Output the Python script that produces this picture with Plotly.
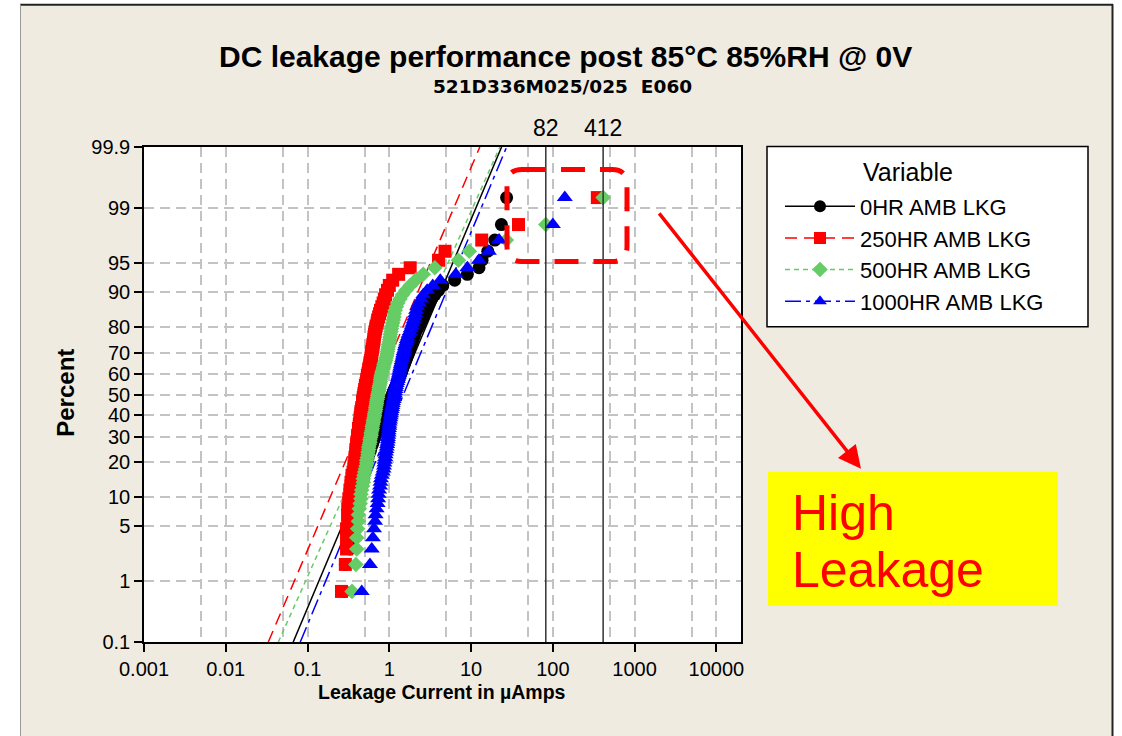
from math import log10
from statistics import NormalDist
import plotly.graph_objects as go

# Leakage current readings (uA), 100 parts per read point, sorted
lkg_0hr = [
    0.28, 0.29, 0.33, 0.36, 0.38, 0.39, 0.40, 0.41, 0.42, 0.43,
    0.44, 0.45, 0.46, 0.47, 0.48, 0.49, 0.50, 0.51, 0.52, 0.53,
    0.54, 0.55, 0.56, 0.58, 0.59, 0.60, 0.62, 0.63, 0.65, 0.66,
    0.68, 0.69, 0.71, 0.72, 0.74, 0.76, 0.78, 0.80, 0.82, 0.84,
    0.86, 0.88, 0.90, 0.92, 0.95, 0.97, 1.00, 1.02, 1.05, 1.08,
    1.10, 1.12, 1.15, 1.18, 1.21, 1.24, 1.27, 1.30, 1.33, 1.36,
    1.39, 1.42, 1.45, 1.48, 1.52, 1.55, 1.58, 1.62, 1.66, 1.70,
    1.74, 1.78, 1.82, 1.86, 1.90, 1.95, 2.00, 2.05, 2.10, 2.20,
    2.30, 2.40, 2.50, 2.60, 2.70, 2.80, 2.95, 3.10, 3.30, 3.60,
    4.00, 4.50, 6.30, 9.00, 12.5, 13.6, 16.0, 19.5, 23.5, 27.2,
]
lkg_250hr = [
    0.26, 0.29, 0.30, 0.30, 0.30, 0.31, 0.31, 0.31, 0.32, 0.32,
    0.33, 0.33, 0.34, 0.34, 0.35, 0.35, 0.36, 0.37, 0.37, 0.38,
    0.38, 0.38, 0.39, 0.39, 0.39, 0.40, 0.40, 0.40, 0.41, 0.41,
    0.41, 0.42, 0.42, 0.42, 0.43, 0.43, 0.44, 0.44, 0.44, 0.45,
    0.45, 0.45, 0.46, 0.46, 0.47, 0.47, 0.47, 0.48, 0.48, 0.49,
    0.49, 0.50, 0.50, 0.51, 0.51, 0.52, 0.53, 0.53, 0.54, 0.54,
    0.55, 0.56, 0.56, 0.57, 0.58, 0.58, 0.59, 0.60, 0.60, 0.61,
    0.61, 0.62, 0.63, 0.63, 0.64, 0.65, 0.65, 0.66, 0.67, 0.68,
    0.69, 0.71, 0.72, 0.74, 0.76, 0.78, 0.81, 0.84, 0.87, 0.90,
    0.95, 1.00, 1.10, 1.30, 1.80, 4.00, 4.80, 13.5, 38.0, 350.0,
]
lkg_500hr = [
    0.35, 0.39, 0.40, 0.40, 0.41, 0.42, 0.42, 0.43, 0.44, 0.45,
    0.45, 0.46, 0.47, 0.48, 0.48, 0.49, 0.50, 0.51, 0.52, 0.53,
    0.53, 0.54, 0.55, 0.55, 0.56, 0.56, 0.57, 0.58, 0.58, 0.59,
    0.60, 0.60, 0.61, 0.62, 0.62, 0.63, 0.64, 0.64, 0.65, 0.66,
    0.66, 0.67, 0.68, 0.68, 0.69, 0.70, 0.70, 0.71, 0.72, 0.72,
    0.73, 0.74, 0.75, 0.75, 0.76, 0.77, 0.78, 0.78, 0.79, 0.80,
    0.81, 0.82, 0.84, 0.85, 0.86, 0.88, 0.90, 0.91, 0.93, 0.94,
    0.95, 0.96, 0.97, 0.98, 1.00, 1.01, 1.02, 1.03, 1.05, 1.06,
    1.08, 1.10, 1.12, 1.14, 1.15, 1.18, 1.22, 1.27, 1.35, 1.45,
    1.60, 1.80, 2.10, 2.60, 3.60, 7.00, 9.50, 27.0, 82.0, 412.0,
]
lkg_1000hr = [
    0.46, 0.58, 0.61, 0.63, 0.65, 0.67, 0.68, 0.70, 0.72, 0.73,
    0.74, 0.75, 0.77, 0.78, 0.79, 0.81, 0.83, 0.85, 0.86, 0.87,
    0.88, 0.89, 0.90, 0.91, 0.92, 0.93, 0.94, 0.95, 0.96, 0.96,
    0.97, 0.98, 0.98, 0.99, 1.00, 1.00, 1.01, 1.02, 1.03, 1.04,
    1.05, 1.06, 1.07, 1.08, 1.09, 1.10, 1.11, 1.13, 1.14, 1.15,
    1.16, 1.17, 1.19, 1.20, 1.21, 1.23, 1.25, 1.27, 1.28, 1.30,
    1.32, 1.33, 1.35, 1.36, 1.38, 1.40, 1.42, 1.44, 1.46, 1.48,
    1.50, 1.53, 1.55, 1.58, 1.61, 1.64, 1.68, 1.72, 1.78, 1.83,
    1.88, 1.93, 1.98, 2.03, 2.08, 2.13, 2.20, 2.30, 2.45, 2.60,
    2.90, 3.40, 4.20, 6.50, 9.00, 12.5, 16.5, 22.0, 100.0, 140.0,
]

series_names = ["0HR AMB LKG", "250HR AMB LKG", "500HR AMB LKG", "1000HR AMB LKG"]
# fitted lognormal lines: leakage at 0.1 % and at 99.9 %
fit_low = [0.0668, 0.0331, 0.0439, 0.0815]
fit_high = [23.6, 12.8, 22.5, 27.2]

ref_values = [82, 412]
pct_ticks = [0.1, 1, 5, 10, 20, 30, 40, 50, 60, 70, 80, 90, 95, 99, 99.9]
x_ticks = [0.001, 0.01, 0.1, 1, 10, 100, 1000, 10000]
x_minor = [0.005, 0.05, 0.5, 5, 50, 500, 5000]
x_max = 20000

colors = ["black", "#FF0000", "#66CC66", "#0000FF"]
symbols = ["circle", "square", "diamond", "triangle-up"]
msizes = [13, 13, 12, 14]
dashes = ["solid", "12px,7px", "5px,4px", "16px,5px,4px,5px"]

FONT = "Liberation Sans, Arial, sans-serif"
BEIGE = "#EFEBE1"
GRID = "#C3C3C3"

nd = NormalDist()


def zval(p):
    return nd.inv_cdf(p / 100.0)


def plot_pos(vals):
    n = len(vals)
    return [nd.inv_cdf((i + 0.7) / (n + 0.4)) for i in range(n)]


# pixel -> paper helpers (plot area 144..741 x 147.5..642)
def px(x):
    return (x - 144) / 597.0


def py(y):
    return (642 - y) / 494.5


z_lo, z_hi = zval(0.1), zval(99.9)
data = [lkg_0hr, lkg_250hr, lkg_500hr, lkg_1000hr]

fig = go.Figure()

# reference lines at 82 and 412
for v in ref_values:
    fig.add_trace(go.Scatter(x=[v, v], y=[z_lo, z_hi], mode="lines", xaxis="x2",
                             line=dict(color="#333333", width=1.5), showlegend=False, hoverinfo="skip"))

# fit lines
for i in range(4):
    fig.add_trace(go.Scatter(x=[fit_low[i], fit_high[i]], y=[z_lo, z_hi], mode="lines",
                             line=dict(color=colors[i], width=1.5, dash=dashes[i]),
                             showlegend=False, hoverinfo="skip"))

# data points
for i in range(4):
    fig.add_trace(go.Scatter(x=data[i], y=plot_pos(data[i]), mode="markers",
                             marker=dict(color=colors[i], symbol=symbols[i], size=msizes[i], line=dict(width=0)),
                             showlegend=False, name=series_names[i]))

# legend entries (line + marker)
for i in range(4):
    fig.add_trace(go.Scatter(x=[None], y=[None], mode="lines+markers", name=series_names[i],
                             line=dict(color=colors[i], width=1.5, dash=dashes[i]),
                             marker=dict(color=colors[i], symbol=symbols[i], size=12)))

axis_font = dict(family=FONT, size=20, color="black")
x_range = [log10(x_ticks[0]), log10(x_max)]

fig.update_layout(
    width=1122, height=736,
    margin=dict(l=144, r=381, t=147, b=94),
    paper_bgcolor=BEIGE, plot_bgcolor="white",
    font=dict(family=FONT, color="black"),
    xaxis=dict(type="log", range=x_range, tickvals=x_ticks, ticktext=[str(t) if t < 1 else str(int(t)) for t in x_ticks],
               ticks="outside", ticklen=8, tickwidth=1.5, tickcolor="black",
               showline=True, linecolor="black", linewidth=1.5, mirror=True,
               showgrid=True, gridcolor=GRID, gridwidth=1.5, griddash="10px,6px", zeroline=False,
               minor=dict(tickvals=x_minor, showgrid=True, gridcolor=GRID, gridwidth=1.5, griddash="10px,6px", ticks=""),
               tickfont=axis_font),
    xaxis2=dict(type="log", range=x_range, overlaying="x", side="top", tickvals=ref_values,
                ticktext=[str(v) for v in ref_values], ticks="", showgrid=False, showline=False,
                zeroline=False, tickfont=dict(family=FONT, size=23, color="black"), ticklabelstandoff=5),
    yaxis=dict(range=[z_lo, z_hi], tickvals=[zval(p) for p in pct_ticks], ticktext=[str(p) for p in pct_ticks],
               ticks="outside", ticklen=8, tickwidth=1.5, tickcolor="black",
               showline=True, linecolor="black", linewidth=1.5, mirror=True,
               showgrid=True, gridcolor=GRID, gridwidth=1.5, griddash="10px,6px", zeroline=False,
               tickfont=axis_font),
    legend=dict(x=px(780), y=py(186), xanchor="left", yanchor="top", bgcolor="rgba(0,0,0,0)",
                borderwidth=0, itemwidth=70, font=dict(family=FONT, size=22, color="black"),
                tracegroupgap=0),
)

shapes = [
    # white surround and page border
    dict(type="rect", xref="paper", yref="paper", x0=px(0), x1=px(20), y0=py(740), y1=py(0),
         fillcolor="white", line=dict(width=0), layer="below"),
    dict(type="rect", xref="paper", yref="paper", x0=px(1113), x1=px(1122), y0=py(740), y1=py(0),
         fillcolor="white", line=dict(width=0), layer="below"),
    dict(type="rect", xref="paper", yref="paper", x0=px(0), x1=px(1122), y0=py(5), y1=py(0),
         fillcolor="white", line=dict(width=0), layer="below"),
    dict(type="line", xref="paper", yref="paper", x0=px(20), x1=px(1113), y0=py(5.5), y1=py(5.5),
         line=dict(color="#222222", width=2)),
    dict(type="line", xref="paper", yref="paper", x0=px(1112.5), x1=px(1112.5), y0=py(740), y1=py(5),
         line=dict(color="#222222", width=2)),
    dict(type="line", xref="paper", yref="paper", x0=px(20.5), x1=px(20.5), y0=py(740), y1=py(5),
         line=dict(color="#999999", width=1)),
    # legend frame
    dict(type="rect", xref="paper", yref="paper", x0=px(767), x1=px(1088), y0=py(327), y1=py(147),
         fillcolor="white", line=dict(color="black", width=1.5), layer="below"),
    # yellow call-out
    dict(type="rect", xref="paper", yref="paper", x0=px(768), x1=px(1058), y0=py(606), y1=py(472),
         fillcolor="#FFFF00", line=dict(width=0), layer="below"),
]

# red dashed rounded box around the high-leakage points
X0, X1, YT, YB = px(507), px(627), py(170), py(262)
rx, ry = 15 / 597.0, 15 / 494.5
path = (f"M{X0 + rx},{YT} L{X1 - rx},{YT} Q{X1},{YT} {X1},{YT - ry} L{X1},{YB + ry} "
        f"Q{X1},{YB} {X1 - rx},{YB} L{X0 + rx},{YB} Q{X0},{YB} {X0},{YB + ry} "
        f"L{X0},{YT - ry} Q{X0},{YT} {X0 + rx},{YT} Z")
shapes.append(dict(type="path", xref="paper", yref="paper", path=path,
                   line=dict(color="#FF0000", width=5, dash="24px,15px"), layer="above"))

fig.update_layout(shapes=shapes)

annotations = [
    dict(text="DC leakage performance post 85°C 85%RH @ 0V", x=px(565), y=py(57),
         font=dict(family=FONT, size=30, weight="bold")),
    dict(text="521D336M025/025  E060", x=px(562), y=py(87),
         font=dict(family="DejaVu Sans, sans-serif", size=18.5, weight="bold")),
    dict(text="Percent", x=px(66), y=py(393), textangle=-90,
         font=dict(family=FONT, size=24, weight="bold")),
    dict(text="Leakage Current in µAmps", x=px(442), y=py(692),
         font=dict(family=FONT, size=19.5, weight="bold")),
    dict(text="Variable", x=px(861), y=py(172), xanchor="left",
         font=dict(family=FONT, size=25)),
    dict(text="High", x=px(790), y=py(513), xanchor="left",
         font=dict(family=FONT, size=50, color="#FF0000")),
    dict(text="Leakage", x=px(790), y=py(570), xanchor="left",
         font=dict(family=FONT, size=50, color="#FF0000")),
]
for a in annotations:
    a.update(xref="paper", yref="paper", showarrow=False)
    a.setdefault("xanchor", "center")
    a["yanchor"] = "middle"
    a["font"].setdefault("color", "black")

annotations.append(dict(text="", x=px(861), y=py(469), xref="paper", yref="paper",
                        showarrow=True, ax=658 - 861, ay=212 - 469, axref="pixel", ayref="pixel",
                        arrowcolor="#FF0000", arrowwidth=3.5, arrowhead=2, arrowsize=1.3))
fig.update_layout(annotations=annotations)

fig.write_html("out.html", config={"displayModeBar": False},
               post_script="document.body.style.margin='0';")
